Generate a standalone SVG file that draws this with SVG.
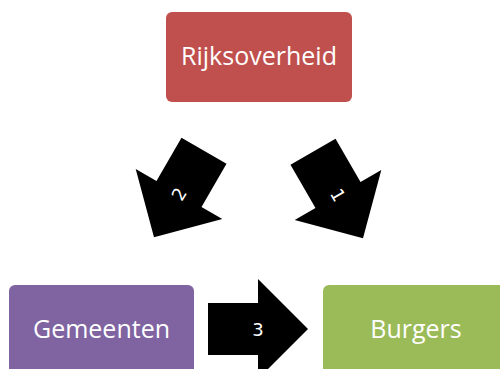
<svg xmlns="http://www.w3.org/2000/svg" width="500" height="369" viewBox="0 0 500 369">
<defs>
<style>
.lbl{font-family:"Open Sans","Noto Sans","Liberation Sans",sans-serif;font-size:25px;fill:#fff;text-anchor:middle}
.num{font-family:"DejaVu Sans","Open Sans",sans-serif;font-size:18px;fill:#fff;text-anchor:middle;dominant-baseline:central}
.arr{fill:#000}
</style>
<path id="arrowShape" d="M-50,-26 L0,-26 L0,-50 L50,0 L0,50 L0,26 L-50,26 Z"/>
</defs>
<rect width="500" height="369" fill="#fff"/>
<g id="connectors">
<g id="arrow1" transform="translate(338,195) rotate(60)">
<use href="#arrowShape" class="arr"/>
<text class="num" x="0" y="0">1</text>
</g>
<g id="arrow2" transform="translate(179,194) rotate(120)">
<use href="#arrowShape" class="arr"/>
<text class="num" x="0" y="0" transform="rotate(180)">2</text>
</g>
<g id="arrow3" transform="translate(258,329)">
<use href="#arrowShape" class="arr"/>
<text class="num" x="0" y="0">3</text>
</g>
</g>
<g id="rijksoverheid">
<rect x="166" y="12" width="186" height="90" rx="6" fill="#C0504D"/>
<text class="lbl" x="259" y="65">Rijksoverheid</text>
</g>
<g id="gemeenten">
<rect x="9" y="285" width="185" height="90" rx="6" fill="#8064A2"/>
<text class="lbl" x="101.5" y="338">Gemeenten</text>
</g>
<g id="burgers">
<rect x="323" y="285" width="186" height="90" rx="6" fill="#9BBB59"/>
<text class="lbl" x="416" y="338">Burgers</text>
</g>
</svg>
